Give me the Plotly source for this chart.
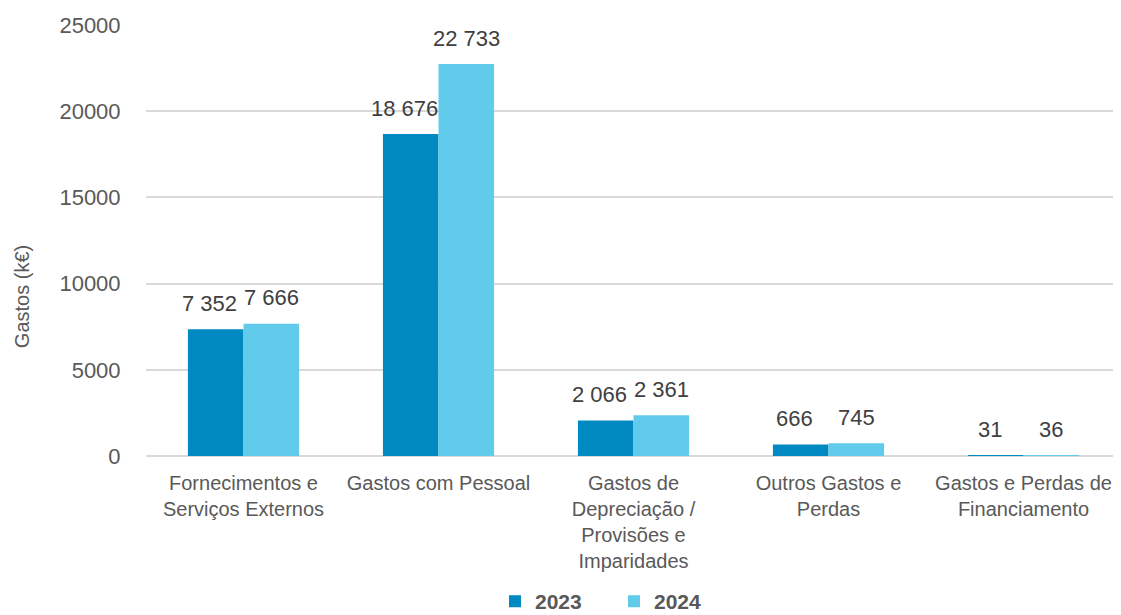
"""
Gastos por natureza, 2023 vs 2024 (k€).
"""

import plotly.graph_objects as go

categories = [
    'Fornecimentos e<br>Serviços Externos',
    'Gastos com Pessoal',
    'Gastos de<br>Depreciação /<br>Provisões e<br>Imparidades',
    'Outros Gastos e<br>Perdas',
    'Gastos e Perdas de<br>Financiamento',
]
values_2023 = [7352, 18676, 2066, 666, 31]
values_2024 = [7666, 22733, 2361, 745, 36]
y_ticks = [0, 5000, 10000, 15000, 20000, 25000]

FONT = 'Liberation Sans, Arial, sans-serif'
BARGAP = 0.43
# page body has an 8px margin, so the figure is drawn 8px smaller
W, H = 1113, 607
M_L, M_T, M_B = 138, 17, 159
PLOT_W = W - M_L


def fmt(v):
    # thousands with a space, as in the source
    return f'{v:,}'.replace(',', ' ')


fig = go.Figure()

fig.add_trace(go.Bar(
    x=categories,
    y=values_2023,
    name='<b>2023</b>',
    marker=dict(color='#008AC1', line=dict(width=0)),
))

fig.add_trace(go.Bar(
    x=categories,
    y=values_2024,
    name='<b>2024</b>',
    marker=dict(color='#61CBEB', line=dict(width=0)),
))

# data labels above each bar (2023 ones sit a touch to the left)
half_bar = PLOT_W / len(categories) * (1 - BARGAP) / 4
for series, shift in [(values_2023, -half_bar - 6), (values_2024, half_bar)]:
    for cat, v in zip(categories, series):
        fig.add_annotation(
            x=cat, y=v,
            text=fmt(v),
            showarrow=False,
            xshift=shift,
            yshift=26,
            yanchor='middle',
            font=dict(size=22, color='#404040'),
        )

# y-axis title sits a bit below the middle in the source
fig.add_annotation(
    xref='paper', yref='paper',
    x=-0.127, y=0.369,
    xanchor='center', yanchor='middle',
    text='Gastos (k€)',
    textangle=-90,
    showarrow=False,
    font=dict(size=20, color='#595959'),
)

fig.update_layout(
    width=W,
    height=H,
    margin=dict(l=M_L, r=0, t=M_T, b=M_B),
    barmode='group',
    bargap=BARGAP,
    bargroupgap=0,
    plot_bgcolor='white',
    paper_bgcolor='white',
    font=dict(family=FONT, color='#595959'),
    legend=dict(
        orientation='h',
        xref='paper', yref='container',
        x=0.48, xanchor='center',
        y=0.022, yanchor='middle',
        font=dict(size=21, color='#595959'),
        entrywidth=74,
        itemsizing='constant',
    ),
)

fig.update_xaxes(
    tickfont=dict(size=20, color='#595959'),
    showgrid=False,
    showline=False,
    ticks='outside',
    ticklen=9,
    tickcolor='white',
    automargin=False,
)

fig.update_yaxes(
    range=[0, 25000],
    tickvals=y_ticks,
    tickformat='d',
    tickfont=dict(size=22, color='#595959'),
    showgrid=True,
    gridcolor='#D9D9D9',
    gridwidth=1.5,
    zeroline=True,
    zerolinecolor='#D9D9D9',
    zerolinewidth=1.5,
    ticks='outside',
    ticklen=20,
    tickcolor='white',
    automargin=False,
)

fig.write_html("out.html")
